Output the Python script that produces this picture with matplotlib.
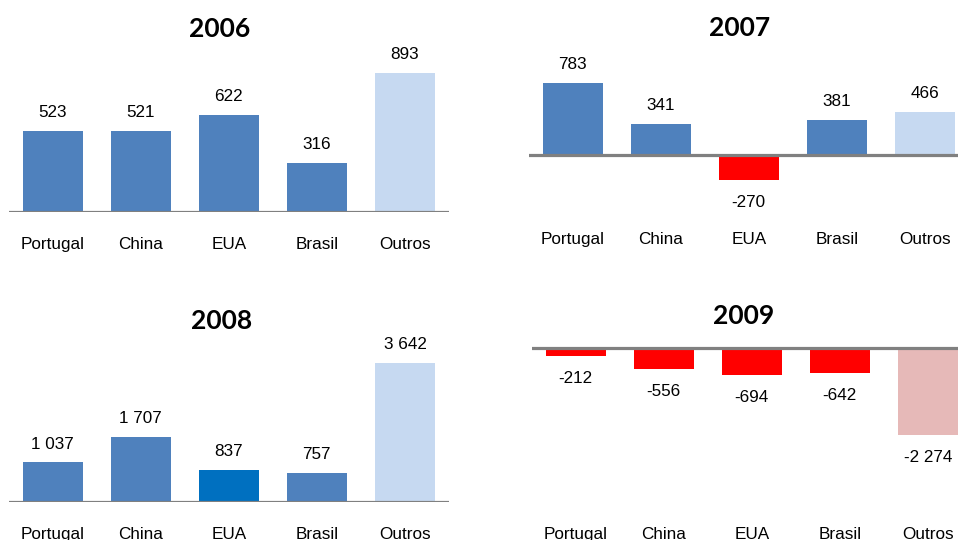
import matplotlib
matplotlib.use('Agg')
import matplotlib.pyplot as plt

# data
categories = ['Portugal', 'China', 'EUA', 'Brasil', 'Outros']
years = ['2006', '2007', '2008', '2009']
values_2006 = [523, 521, 622, 316, 893]
values_2007 = [783, 341, -270, 381, 466]
values_2008 = [1037, 1707, 837, 757, 3642]
values_2009 = [-212, -556, -694, -642, -2274]

BLUE = '#4F81BD'
LIGHT_BLUE = '#C6D9F1'
DARK_BLUE = '#0070C0'
RED = '#FF0000'
PINK = '#E6B9B8'
GREY = '#808080'

W, H, DPI = 958, 540, 100

plt.rcParams['font.family'] = ['Liberation Sans', 'DejaVu Sans']

fig = plt.figure(figsize=(W / DPI, H / DPI), dpi=DPI)
fig.patch.set_facecolor('white')


def fmt(v):
    return f'{v:,}'.replace(',', ' ')


def colors_for(vals, other_pos, other_neg, special=None):
    cols = []
    for i, v in enumerate(vals):
        if i == len(vals) - 1:
            cols.append(other_pos if v >= 0 else other_neg)
        elif special is not None and i == special:
            cols.append(DARK_BLUE)
        else:
            cols.append(BLUE if v >= 0 else RED)
    return cols


def panel(vals, title, left, right, base, scale, top, bottom, title_xy, special=None):
    # pixel box -> figure fraction
    ax = fig.add_axes([left / W, 1 - bottom / H, (right - left) / W, (bottom - top) / H])
    ax.patch.set_visible(False)
    ax.set_xlim(-0.5, 4.5)
    ax.set_ylim(-(bottom - base) / scale, (base - top) / scale)
    for s in ax.spines.values():
        s.set_visible(False)
    ax.set_yticks([])

    cols = colors_for(vals, LIGHT_BLUE, PINK, special)
    ax.bar(range(len(vals)), vals, width=0.68, color=cols, zorder=2)
    ax.axhline(0, color=GREY, lw=2.3, zorder=3)

    for i, v in enumerate(vals):
        if v >= 0:
            ax.annotate(fmt(v), (i, v), xytext=(0, 10), textcoords='offset points',
                        ha='center', va='baseline', fontsize=12.3)
        else:
            ax.annotate(fmt(v), (i, v), xytext=(0, -10.8), textcoords='offset points',
                        ha='center', va='top', fontsize=12.3)

    ax.set_xticks(range(len(categories)), categories, fontsize=12.3)
    ax.tick_params(axis='x', length=0, pad=26.9)
    for lbl in ax.get_xticklabels():
        lbl.set_va('baseline')

    fig.text(title_xy[0] / W, 1 - title_xy[1] / H, title, ha='center', va='baseline',
             fontsize=19, fontweight='bold', family=['Lato', 'DejaVu Sans'])
    return ax


panel(values_2006, years[0], 8.5, 449, 211.7, 0.155, 40, 211.7, (220, 37))
panel(values_2007, years[1], 528.5, 969, 155, 0.0918, 40, 206.7, (740, 36))
panel(values_2008, years[2], 8.5, 449, 502, 0.0381, 330, 502, (222, 329), special=2)
panel(values_2009, years[3], 531.5, 972, 348, 0.0383, 330, 501.7, (744, 324))

fig.savefig('out.png', dpi=DPI)
